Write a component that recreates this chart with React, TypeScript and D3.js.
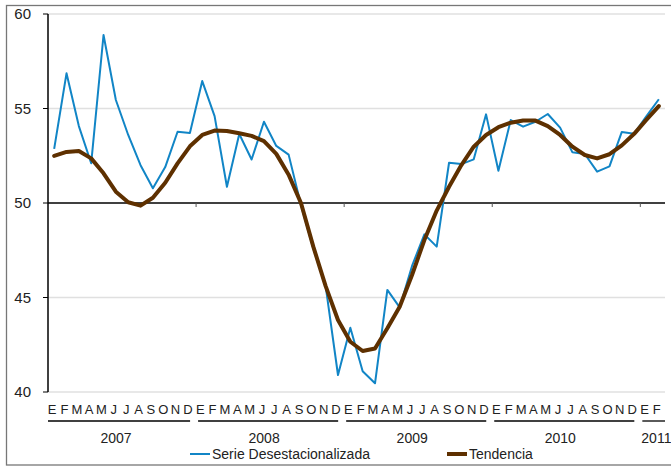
import { useMemo } from "react";
import * as d3 from "d3";

// monthly values, Jan 2007 - Feb 2011
const months = ["E", "F", "M", "A", "M", "J", "J", "A", "S", "O", "N", "D"];
const years = ["2007", "2008", "2009", "2010", "2011"];
const monthsPerYear = [12, 12, 12, 12, 2];

const serie = [
  52.86, 56.86, 54.07, 52.1, 58.89, 55.45, 53.6, 52.0, 50.78, 51.9, 53.77, 53.7,
  56.45, 54.6, 50.86, 53.65, 52.3, 54.3, 53.02, 52.56, 49.9, 47.6, 45.6, 40.9,
  43.4, 41.1, 40.46, 45.4, 44.48, 46.67, 48.34, 47.69, 52.13, 52.06, 52.31, 54.69,
  51.71, 54.39, 54.04, 54.3, 54.71, 53.99, 52.68, 52.59, 51.66, 51.94, 53.76, 53.67,
  54.6, 55.49,
];
const tendencia = [
  52.49, 52.7, 52.75, 52.36, 51.57, 50.6, 50.04, 49.86, 50.28, 51.07, 52.1, 53.0,
  53.6, 53.83, 53.81, 53.69, 53.55, 53.27, 52.6, 51.5, 50.0, 47.69, 45.6, 43.81,
  42.66, 42.17, 42.3, 43.37, 44.51, 46.19, 48.04, 49.6, 50.86, 52.01, 52.98, 53.6,
  54.01, 54.25, 54.36, 54.36, 54.07, 53.6, 52.98, 52.54, 52.36, 52.58, 53.05, 53.66,
  54.41, 55.13,
];
const yTicks = [40, 45, 50, 55, 60];

const W = 671, H = 466;
const left = 48, right = 665, top = 14, bottom = 392;
const font = "'Liberation Sans', Arial, sans-serif";

export default function App() {
  const idx = d3.range(serie.length);
  const x = d3.scaleBand<number>().domain(idx).range([left, right]);
  const y = d3.scaleLinear().domain([40, 60]).range([bottom, top]);
  const cx = (i: number) => x(i)! + x.bandwidth() / 2;

  const line = d3.line<number>().x((_, i) => cx(i)).y((d) => y(d));

  // year boundaries in month index
  const starts = useMemo(() => {
    const s = [0];
    monthsPerYear.forEach((n) => s.push(s[s.length - 1] + n));
    return s;
  }, []);
  const xb = (m: number) => left + m * x.step();

  return (
    <svg width={W} height={H} style={{ position: "absolute", left: 0, top: 0, background: "#fff" }}>
      <rect x={6.5} y={5.5} width={700} height={459.5} fill="none" stroke="#777" strokeWidth={1.3} />

      {yTicks.map((t) => (
        <g key={t}>
          <line x1={left} x2={right} y1={y(t)} y2={y(t)}
            stroke={t === 50 ? "#000" : "#e0e0e0"} strokeWidth={1.5} />
          <line x1={43} x2={left} y1={y(t)} y2={y(t)} stroke="#000" strokeWidth={1} />
          <text x={31} y={y(t) + 5} textAnchor="end" fontFamily={font} fontSize={15} fill="#222">{t}</text>
        </g>
      ))}
      <line x1={left} x2={left} y1={top} y2={bottom} stroke="#000" strokeWidth={1.5} />
      {starts.slice(1, 5).map((m) => (
        <line key={m} x1={xb(m)} x2={xb(m)} y1={y(50)} y2={y(50) + 4} stroke="#555" strokeWidth={1} />
      ))}

      <path d={line(serie)!} fill="none" stroke="#1185c6" strokeWidth={2} strokeLinejoin="round" />
      <path d={line(tendencia)!} fill="none" stroke="#5e3000" strokeWidth={4} strokeLinejoin="round" strokeLinecap="round" />

      {idx.map((i) => (
        <text key={i} x={cx(i) - 2} y={414} textAnchor="middle" fontFamily={font} fontSize={13} fill="#222">
          {months[i % 12]}
        </text>
      ))}

      {years.map((yr, k) => {
        const a = xb(starts[k]);
        const b = xb(starts[k + 1]);
        const last = k === years.length - 1;
        return (
          <g key={yr}>
            <line x1={a + (k === 0 ? 0 : 2)} x2={last ? right : b - 6} y1={421} y2={421} stroke="#000" strokeWidth={1.3} />
            <text x={last ? a + 1 : (a + b) / 2 - 6} y={443} textAnchor={last ? "start" : "middle"}
              fontFamily={font} fontSize={14} fill="#222">{yr}</text>
          </g>
        );
      })}

      <line x1={190} x2={210} y1={454} y2={454} stroke="#1185c6" strokeWidth={2} />
      <text x={212} y={459} fontFamily={font} fontSize={14} fill="#222">Serie Desestacionalizada</text>
      <line x1={447} x2={467} y1={454} y2={454} stroke="#5e3000" strokeWidth={4} />
      <text x={469} y={459} fontFamily={font} fontSize={14} fill="#222">Tendencia</text>
    </svg>
  );
}
